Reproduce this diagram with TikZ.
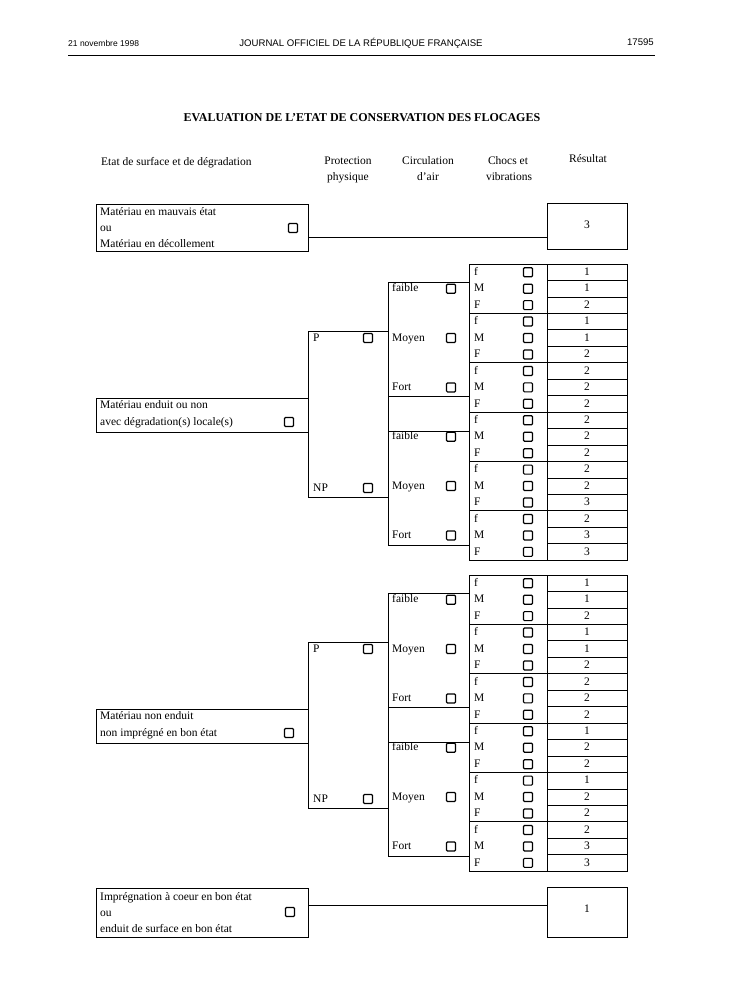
\documentclass[tikz,border=0pt]{standalone}
\usepackage{fontspec}
\setmainfont{Liberation Serif}
\newfontfamily\hdrfont{Liberation Sans}
\tikzset{
  ln/.style={line width=0.7pt},
  lab/.style={anchor=west, inner sep=0pt, text height=8pt, text depth=1.5pt},
  ctr/.style={anchor=center, inner sep=0pt, text height=8pt, text depth=1.5pt},
  cb/.style={draw, line width=1.2pt, rounded corners=1pt, minimum width=9pt, minimum height=9pt, inner sep=0pt},
  cell/.style={draw, line width=0.7pt, inner sep=0pt, minimum width=80pt, minimum height=16.45pt, text height=8pt, text depth=1.5pt},
  grp/.style={draw, line width=0.7pt, inner sep=0pt, minimum width=78pt, minimum height=49.35pt},
  bigbox/.style={draw, line width=0.7pt, inner sep=0pt, anchor=north west},
}
\newcommand\flsect[5]{%
\begin{scope}[yshift=-#2pt]
  \foreach \g in {0,...,5}{
    \node[grp] (g#1\g) at (508,{264+(\g+0.5)*49.35}) {};
    \foreach \l [count=\j from 0] in {f,M,F}{
      \pgfmathsetmacro\yc{264+(3*\g+\j+0.5)*16.45}
      \node[lab] (l#1\g\j) at (474,\yc) {\l};
      \node[cb] (k#1\g\j) at (528,\yc) {};
    }
  }
  \foreach \v [count=\i from 0] in {#3}{
    \node[cell] (v#1\i) at (587,{264+(\i+0.5)*16.45}) {\v};
  }
  % circulation bracket
  \draw[ln] (469,282) -- (388,282) -- (388,545) -- (469,545);
  \draw[ln] (388,396) -- (469,396);
  \draw[ln] (388,431) -- (469,431);
  \foreach \c/\yy [count=\n] in {faible/288.7, Moyen/338, Fort/387.4, faible/436.7, Moyen/486, Fort/535.4}{
    \node[lab] (c#1\n) at (392,\yy) {\c};
    \node[cb] (ck#1\n) at (451,\yy) {};
  }
  % protection bracket
  \draw[ln] (388,331) -- (308,331) -- (308,497) -- (388,497);
  \node[lab] (p#1) at (313,338) {P};
  \node[cb] (pk#1) at (368,338) {};
  \node[lab] (np#1) at (313,488) {NP};
  \node[cb] (npk#1) at (368,488) {};
  % root box
  \node[bigbox, minimum width=212pt, minimum height=34pt] (root#1) at (96,398) {};
  \node[lab] (rt#1a) at (100,405) {#4};
  \node[lab] (rt#1b) at (100,422) {#5};
  \node[cb] (rk#1) at (289,422) {};
\end{scope}}
\begin{document}
\begin{tikzpicture}[x=1pt,y=-1pt,every node/.style={font=\fontsize{11.5}{13}\selectfont}]
\useasboundingbox (0,0) rectangle (731,990);
% header
\node[anchor=base west, inner sep=0pt, font=\hdrfont\fontsize{8.5}{10}\selectfont] (date) at (68,47) {21 novembre 1998};
\node[anchor=base, inner sep=0pt, font=\hdrfont\fontsize{9.6}{11}\selectfont] (jo) at (361,47) {JOURNAL OFFICIEL DE LA RÉPUBLIQUE FRANÇAISE};
\node[anchor=base east, inner sep=0pt, font=\hdrfont\fontsize{9.6}{11}\selectfont] (pg) at (654,46) {17595};
\coordinate (hl) at (68,55);
\coordinate (hr) at (655,55);
\draw[line width=0.8pt] (hl) -- (hr);
% title
\node[anchor=base, inner sep=0pt, font=\bfseries\fontsize{12}{14}\selectfont] (title) at (362,121) {EVALUATION DE L’ETAT DE CONSERVATION DES FLOCAGES};
% column heads
\node[anchor=base west, inner sep=0pt] (h1) at (101,165) {Etat de surface et de dégradation};
\node[anchor=base, inner sep=0pt] (h2a) at (348,164) {Protection};
\node[anchor=base, inner sep=0pt] (h2b) at (348,180) {physique};
\node[anchor=base, inner sep=0pt] (h3a) at (428,164) {Circulation};
\node[anchor=base, inner sep=0pt] (h3b) at (428,180) {d’air};
\node[anchor=base, inner sep=0pt] (h4a) at (508,164) {Chocs et};
\node[anchor=base, inner sep=0pt] (h4b) at (509,180) {vibrations};
\node[anchor=base, inner sep=0pt] (h5) at (588,162) {Résultat};
% top box
\node[bigbox, minimum width=212pt, minimum height=47pt] (b1) at (96,204) {};
\node[lab] (b1a) at (100,212) {Matériau en mauvais état};
\node[lab] (b1b) at (100,228) {ou};
\node[lab] (b1c) at (100,244) {Matériau en décollement};
\node[cb] (b1k) at (293,228) {};
\node[bigbox, minimum width=80pt, minimum height=46pt] (r1) at (547,203) {};
\node[ctr] (r1t) at (587,225) {3};
\draw[ln] ([yshift=-9.5pt]b1.east) -- ([yshift=-9.5pt]b1.east -| r1.west);
% sections
\flsect{a}{0}{1,1,2,1,1,2,2,2,2,2,2,2,2,2,3,2,3,3}{Matériau enduit ou non}{avec dégradation(s) locale(s)}
\flsect{b}{311}{1,1,2,1,1,2,2,2,2,1,2,2,1,2,2,2,3,3}{Matériau non enduit}{non imprégné en bon état}
% bottom box
\node[bigbox, minimum width=212pt, minimum height=49pt] (b4) at (96,888) {};
\node[lab] (b4a) at (100,897) {Imprégnation à coeur en bon état};
\node[lab] (b4b) at (100,913) {ou};
\node[lab] (b4c) at (100,929) {enduit de surface en bon état};
\node[cb] (b4k) at (290,912) {};
\node[bigbox, minimum width=80pt, minimum height=50pt] (r4) at (547,887) {};
\node[ctr] (r4t) at (587,909) {1};
\draw[ln] ([yshift=7.5pt]b4.east) -- ([yshift=7.5pt]b4.east -| r4.west);
\end{tikzpicture}
\end{document}
